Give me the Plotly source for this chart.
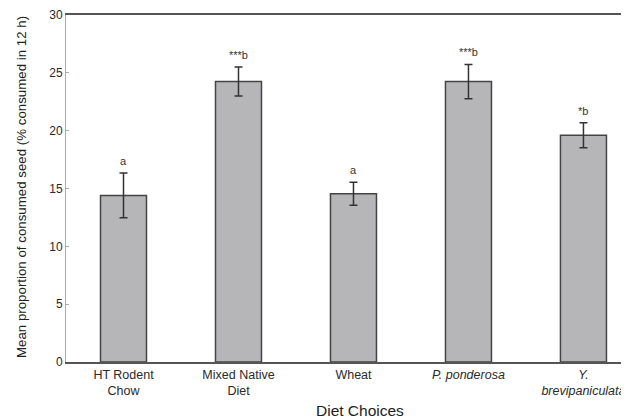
import plotly.graph_objects as go

categories = ["HT Rodent<br>Chow", "Mixed Native<br>Diet", "Wheat",
              "<i>P. ponderosa</i>", "<i>Y.</i><br><i>brevipaniculata</i>"]
means = [14.4, 24.25, 14.55, 24.25, 19.6]
errors = [1.93, 1.25, 1.0, 1.48, 1.08]
sig_labels = ["a", "***b", "a", "***b", "*b"]
y_ticks = [0, 5, 10, 15, 20, 25, 30]

FONT = "Liberation Sans, Arial, sans-serif"
xs = list(range(len(categories)))

fig = go.Figure()
fig.add_trace(go.Bar(
    x=xs, y=means, width=0.40,
    marker=dict(color="#b6b6b9", line=dict(color="#444444", width=1.5)),
    error_y=dict(type="data", array=errors, visible=True,
                 color="#333333", thickness=1.5, width=4),
    showlegend=False,
))

for x, m, e, lab in zip(xs, means, errors, sig_labels):
    fig.add_annotation(x=x, y=m + e, text=lab, showarrow=False,
                       yanchor="bottom", yshift=4,
                       font=dict(family=FONT, size=11, color="#333333"))

fig.add_annotation(x=0.523, y=-0.141, xref="paper", yref="paper",
                   text="Diet Choices", showarrow=False,
                   xanchor="center", yanchor="middle",
                   font=dict(family=FONT, size=15.5, color="#222222"))

fig.add_annotation(x=-0.080, y=0.504, xref="paper", yref="paper",
                   text="Mean proportion of consumed seed (% consumed in 12 h)",
                   showarrow=False, textangle=-90,
                   xanchor="center", yanchor="middle",
                   font=dict(family=FONT, size=13.3, color="#222222"))

fig.update_layout(
    width=621, height=411,
    margin=dict(l=58, r=0, t=7, b=57),
    plot_bgcolor="white", paper_bgcolor="white",
    font=dict(family=FONT, size=13, color="#222222"),
)
fig.update_xaxes(
    range=[-0.5, 4.396], automargin=False,
    tickmode="array", tickvals=xs, ticktext=categories,
    showline=True, linecolor="#555555", linewidth=1.5, mirror=True,
    ticks="", showgrid=False, zeroline=False,
    tickfont=dict(family=FONT, size=12.5, color="#2a2a2a"),
)
fig.update_yaxes(
    range=[0, 30], tickmode="array", tickvals=y_ticks, automargin=False,
    showline=True, linecolor="#aaaaaa", linewidth=1,
    ticks="inside", ticklen=3, tickcolor="#aaaaaa",
    showgrid=False, zeroline=False,
    tickfont=dict(family=FONT, size=12, color="#2a2a2a"),
)

fig.write_html("out.html")
